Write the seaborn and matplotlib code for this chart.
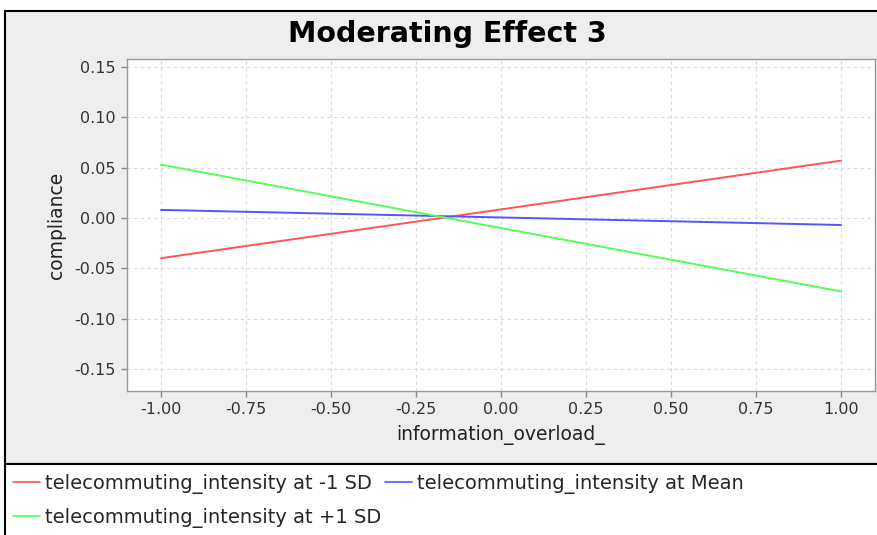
import numpy as np
import pandas as pd
import seaborn as sns
import matplotlib.pyplot as plt
from matplotlib.patches import Rectangle
from matplotlib.lines import Line2D

sns.set_theme(style='whitegrid')
plt.rcParams['font.family'] = ['DejaVu Sans']

# simple slopes
x_vals = [-1.0, 1.0]
low_sd = [-0.040, 0.057]
at_mean = [0.008, -0.007]
high_sd = [0.053, -0.073]
series_names = ['telecommuting_intensity at -1 SD',
                'telecommuting_intensity at Mean',
                'telecommuting_intensity at +1 SD']
colors = ['#ff5555', '#5555ff', '#55ff55']

df = pd.concat([
    pd.DataFrame({'information_overload_': x_vals, 'compliance': vals, 'series': name})
    for name, vals in zip(series_names, [low_sd, at_mean, high_sd])
])

fig = plt.figure(figsize=(8.77, 5.35), dpi=100)
fig.patch.set_facecolor('white')
# grey chart panel and white legend strip
fig.patches.append(Rectangle((5 / 877, 71 / 535), 1, (524 - 71) / 535, transform=fig.transFigure,
                             facecolor='#eeeeee', edgecolor='black', lw=1.5, zorder=-2))
fig.patches.append(Rectangle((5 / 877, -0.01), 1, 71 / 535 + 0.01, transform=fig.transFigure,
                             facecolor='white', edgecolor='black', lw=1.5, zorder=-1))

ax = fig.add_axes([127 / 877, 144 / 535, 748 / 877, 332 / 535])
sns.lineplot(data=df, x='information_overload_', y='compliance', hue='series',
             hue_order=series_names, palette=colors, lw=1.4, legend=False, ax=ax)

ax.set_xlim(-1.1, 1.1)
ax.set_ylim(-0.172, 0.158)
ax.set_xticks(np.arange(-1.0, 1.01, 0.25))
ax.set_yticks(np.arange(-0.15, 0.151, 0.05))
ax.xaxis.set_major_formatter(plt.FormatStrFormatter('%.2f'))
ax.yaxis.set_major_formatter(plt.FormatStrFormatter('%.2f'))
ax.grid(True, color='#dadada', ls=(0, (3, 3)), lw=0.8)
ax.set_facecolor('white')
for s in ax.spines.values():
    s.set_color('#999999')
    s.set_linewidth(1)
ax.tick_params(axis='both', which='major', length=4, width=1, color='#888888',
               labelsize=11.5, labelcolor='#333333', direction='out',
               bottom=True, left=True, pad=4)
ax.set_xlabel('information_overload_', fontsize=13.5, color='#222222', labelpad=6)
ax.set_ylabel('compliance', fontsize=13.5, color='#222222', labelpad=6)

fig.text(0.51, 0.937, 'Moderating Effect 3', ha='center', va='center',
         fontsize=20.5, fontweight='bold', color='black')

handles = [Line2D([], [], color=c, lw=1.2) for c in colors]
# ncol=2 fills column-wise, so order gives row1: -1 SD, Mean; row2: +1 SD
order = [0, 2, 1]
fig.legend([handles[i] for i in order], [series_names[i] for i in order],
           loc='upper left', bbox_to_anchor=(13 / 877, 61 / 535), ncol=2,
           frameon=False, fontsize=14, handlelength=1.4, handletextpad=0.25,
           columnspacing=0.2, labelspacing=0.7, borderaxespad=0, borderpad=0)

fig.savefig('out.png', dpi=100)
